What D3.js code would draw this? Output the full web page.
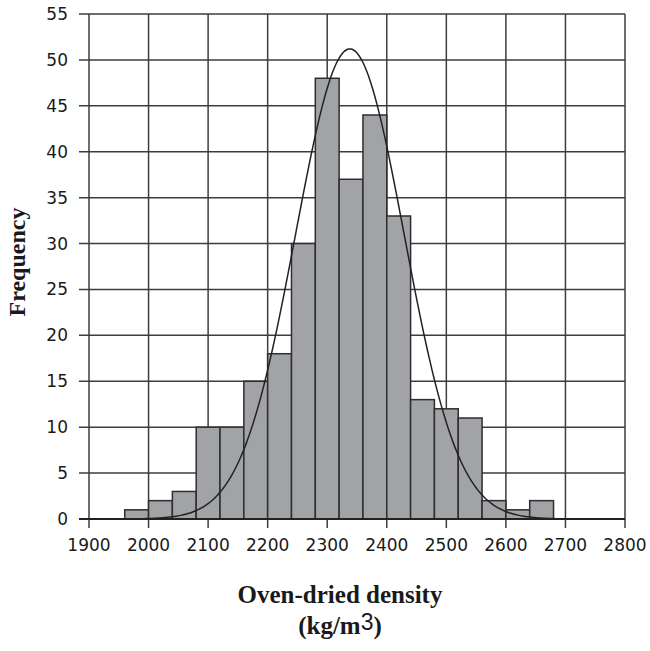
<!DOCTYPE html>
<html>
<head>
<meta charset="utf-8">
<script src="https://cdn.jsdelivr.net/npm/d3@7"></script>
<style>
body { margin: 0; background: #fff; }
svg text { fill: #1a1a1a; }
</style>
</head>
<body>
<svg width="650" height="651"></svg>
<script>
var binStarts = [1960, 2000, 2040, 2080, 2120, 2160, 2200, 2240, 2280, 2320, 2360, 2400, 2440, 2480, 2520, 2560, 2600, 2640];
var counts = [1, 2, 3, 10, 10, 15, 18, 30, 48, 37, 44, 33, 13, 12, 11, 2, 1, 2];
var binWidth = 40;
var xTicks = [1900, 2000, 2100, 2200, 2300, 2400, 2500, 2600, 2700, 2800];
var yTicks = [0, 5, 10, 15, 20, 25, 30, 35, 40, 45, 50, 55];

// fitted normal curve
var fitMean = 2338, fitSd = 91;

var svg = d3.select("svg");
var mLeft = 89, mRight = 625, mTop = 14, mBottom = 519;

var x = d3.scaleLinear().domain([1900, 2800]).range([mLeft, mRight]);
var y = d3.scaleLinear().domain([0, 55]).range([mBottom, mTop]);

var grid = "#3d3d3d";

// horizontal grid + ticks
svg.selectAll(".hgrid")
    .data(yTicks)
    .enter().append("line")
    .attr("x1", mLeft - 10)
    .attr("x2", mRight)
    .attr("y1", function(d) { return y(d); })
    .attr("y2", function(d) { return y(d); })
    .attr("stroke", grid)
    .attr("stroke-width", 1.5);

svg.selectAll(".vgrid")
    .data(xTicks)
    .enter().append("line")
    .attr("x1", function(d) { return x(d); })
    .attr("x2", function(d) { return x(d); })
    .attr("y1", mTop)
    .attr("y2", mBottom + 9)
    .attr("stroke", grid)
    .attr("stroke-width", 1.5);

// bars
svg.selectAll(".bar")
    .data(counts)
    .enter().append("rect")
    .attr("x", function(d, i) { return x(binStarts[i]); })
    .attr("width", function(d, i) { return x(binStarts[i] + binWidth) - x(binStarts[i]); })
    .attr("y", function(d) { return y(d); })
    .attr("height", function(d) { return mBottom - y(d); })
    .attr("fill", "#a2a3a7")
    .attr("stroke", "#2e2e2e")
    .attr("stroke-width", 1.5);

// x axis baseline
svg.append("line")
    .attr("x1", mLeft - 10).attr("x2", mRight)
    .attr("y1", mBottom).attr("y2", mBottom)
    .attr("stroke", "#222").attr("stroke-width", 2);

// normal curve
var total = d3.sum(counts);
var curve = d3.range(1900, 2801, 4).map(function(v) {
    var z = (v - fitMean) / fitSd;
    return [v, total * binWidth / (fitSd * Math.sqrt(2 * Math.PI)) * Math.exp(-0.5 * z * z)];
});
svg.append("path")
    .datum(curve)
    .attr("fill", "none")
    .attr("stroke", "#222")
    .attr("stroke-width", 1.5)
    .attr("d", d3.line()
        .x(function(d) { return x(d[0]); })
        .y(function(d) { return y(d[1]); })
        .curve(d3.curveBasis));

// tick labels
svg.selectAll(".ylab")
    .data(yTicks)
    .enter().append("text")
    .attr("x", mLeft - 21)
    .attr("y", function(d) { return y(d) + 6; })
    .attr("text-anchor", "end")
    .style("font-family", "DejaVu Sans, sans-serif")
    .style("font-size", "17px")
    .text(function(d) { return d; });

svg.selectAll(".xlab")
    .data(xTicks)
    .enter().append("text")
    .attr("x", function(d) { return x(d); })
    .attr("y", mBottom + 32)
    .attr("text-anchor", "middle")
    .style("font-family", "DejaVu Sans, sans-serif")
    .style("font-size", "17px")
    .text(function(d) { return d; });

// axis titles
svg.append("text")
    .attr("transform", "translate(25,262) rotate(-90)")
    .attr("text-anchor", "middle")
    .style("font-family", "Liberation Serif, serif")
    .style("font-weight", "bold")
    .style("font-size", "24px")
    .text("Frequency");

svg.append("text")
    .attr("x", 340).attr("y", 603)
    .attr("text-anchor", "middle")
    .style("font-family", "Liberation Serif, serif")
    .style("font-weight", "bold")
    .style("font-size", "25px")
    .text("Oven-dried density");

var unit = svg.append("text")
    .attr("x", 340).attr("y", 634)
    .attr("text-anchor", "middle")
    .style("font-family", "Liberation Serif, serif")
    .style("font-weight", "bold")
    .style("font-size", "25px");
unit.append("tspan").text("(kg/m");
unit.append("tspan")
    .attr("dy", -4)
    .style("font-family", "Liberation Sans, sans-serif")
    .style("font-size", "23px")
    .style("font-weight", "normal")
    .text("3");
unit.append("tspan").attr("dy", 4).text(")");
</script>
</body>
</html>
